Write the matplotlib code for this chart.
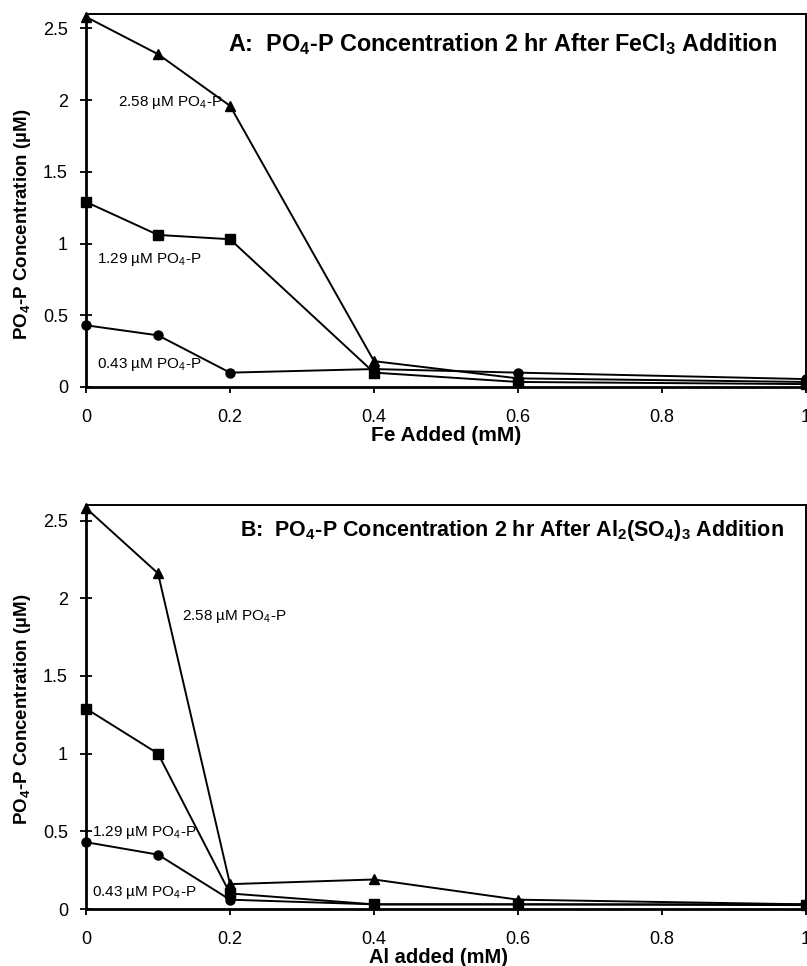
import matplotlib
matplotlib.use("Agg")
import matplotlib.pyplot as plt

# added metal (mM)
dose = [0, 0.1, 0.2, 0.4, 0.6, 1.0]

# panel A - FeCl3
fe_258 = [2.58, 2.32, 1.96, 0.18, 0.06, 0.035]
fe_129 = [1.29, 1.06, 1.03, 0.10, 0.035, 0.02]
fe_043 = [0.43, 0.36, 0.10, 0.125, 0.10, 0.055]

# panel B - Al2(SO4)3
al_258 = [2.58, 2.16, 0.16, 0.19, 0.06, 0.03]
al_129 = [1.29, 1.00, 0.10, 0.03, 0.03, 0.025]
al_043 = [0.43, 0.35, 0.06, 0.03, 0.03, 0.03]

xticks = [0, 0.2, 0.4, 0.6, 0.8, 1]
xticklabels = ["0", "0.2", "0.4", "0.6", "0.8", "1"]
yticks = [0, 0.5, 1, 1.5, 2, 2.5]
yticklabels = ["0", "0.5", "1", "1.5", "2", "2.5"]

sub4 = r"$_\mathregular{4}$"
lab258 = "2.58 µM PO" + sub4 + "-P"
lab129 = "1.29 µM PO" + sub4 + "-P"
lab043 = "0.43 µM PO" + sub4 + "-P"

plt.rcParams["font.family"] = ["Liberation Sans", "DejaVu Sans"]

fig = plt.figure(figsize=(8.07, 9.66), dpi=100)
axA = fig.add_axes([0.1066, 0.5994, 0.8922, 0.3861])
axB = fig.add_axes([0.1066, 0.0590, 0.8922, 0.4182])


def style_axis(ax, xpad):
    ax.set_xlim(0, 1)
    ax.set_ylim(0, 2.6)
    ax.set_xticks(xticks)
    ax.set_xticklabels(xticklabels)
    ax.set_yticks(yticks)
    ax.set_yticklabels(yticklabels)
    ax.tick_params(axis="x", direction="out", length=4, width=1.3, pad=xpad, labelsize=13)
    ax.tick_params(axis="y", direction="inout", length=8, width=1.3, pad=9, labelsize=13)
    for side in ["left", "bottom"]:
        ax.spines[side].set_linewidth(2.0)
    for side in ["top", "right"]:
        ax.spines[side].set_linewidth(1.4)
    ax.set_ylabel("PO" + sub4 + "-P Concentration (µM)", fontweight="bold", fontsize=13.5)


def draw_series(ax, y258, y129, y043):
    kw = dict(color="black", linewidth=1.4, clip_on=False)
    ax.plot(dose, y258, marker="^", markersize=7, **kw)
    ax.plot(dose, y129, marker="s", markersize=6.5, **kw)
    ax.plot(dose, y043, marker="o", markersize=6.5, **kw)


# ---- panel A ----
style_axis(axA, 12)
draw_series(axA, fe_258, fe_129, fe_043)
axA.text(0.044, 1.98, lab258, fontsize=11, va="center", ha="left")
axA.text(0.015, 0.89, lab129, fontsize=11, va="center", ha="left")
axA.text(0.015, 0.16, lab043, fontsize=11, va="center", ha="left")
axA.text(0.197, 0.92, "A:  PO" + sub4 + "-P Concentration 2 hr After FeCl" + r"$_\mathregular{3}$" + " Addition",
         transform=axA.transAxes, fontweight="bold", fontsize=16.8,
         va="center", ha="left")
axA.set_xlabel("Fe Added (mM)", fontweight="bold", fontsize=15)
axA.xaxis.set_label_coords(0.5, -0.105)
axA.yaxis.set_label_coords(-0.073, 0.437)

# ---- panel B ----
style_axis(axB, 12)
draw_series(axB, al_258, al_129, al_043)
axB.text(0.133, 1.88, lab258, fontsize=11, va="center", ha="left")
axB.text(0.008, 0.49, lab129, fontsize=11, va="center", ha="left")
axB.text(0.008, 0.105, lab043, fontsize=11, va="center", ha="left")
axB.text(0.214, 0.938, "B:  PO" + sub4 + "-P Concentration 2 hr After Al" + r"$_\mathregular{2}$" + "(SO"
         + sub4 + ")" + r"$_\mathregular{3}$" + " Addition",
         transform=axB.transAxes, fontweight="bold", fontsize=15.5,
         va="center", ha="left")
axB.set_xlabel("Al added (mM)", fontweight="bold", fontsize=14.5)
axB.xaxis.set_label_coords(0.49, -0.097)
axB.yaxis.set_label_coords(-0.073, 0.495)

fig.savefig("out.png", dpi=100)
